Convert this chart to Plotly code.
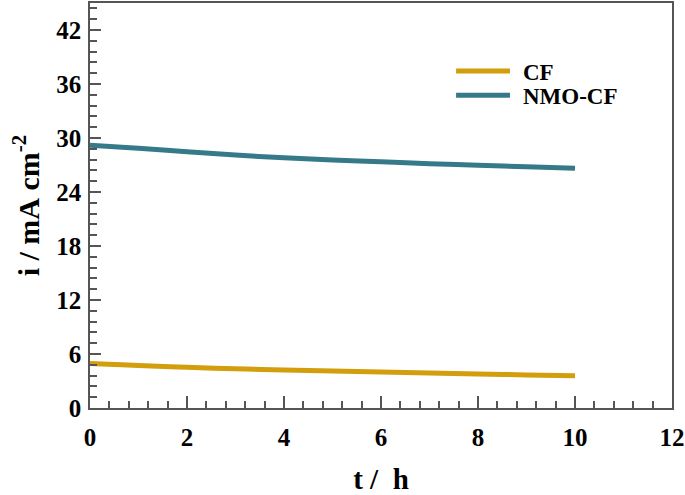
import plotly.graph_objects as go

t_hours = [0, 0.5, 1, 2, 3, 4, 5, 6, 7, 8, 9, 10]
cf_current = [4.95, 4.84, 4.72, 4.52, 4.36, 4.23, 4.11, 4.0, 3.9, 3.79, 3.68, 3.59]
nmo_cf_current = [29.2, 29.02, 28.85, 28.48, 28.1, 27.8, 27.56, 27.35, 27.15, 26.96, 26.8, 26.63]

series_names = ["CF", "NMO-CF"]
series_colors = ["#D29E0C", "#367A8A"]

font_family = "Liberation Serif, Times New Roman, serif"

fig = go.Figure()
for name, vals, col in zip(series_names, [cf_current, nmo_cf_current], series_colors):
    fig.add_trace(go.Scatter(
        x=t_hours, y=vals, name=name, mode="lines",
        line=dict(color=col, width=5, shape="spline"),
        showlegend=False,
    ))

axis_common = dict(
    showline=True, linecolor="#555555", linewidth=1.5, mirror=True,
    ticks="inside", tickcolor="#555555", tickwidth=1.5,
    showgrid=False, zeroline=False, automargin=False,
    tickfont=dict(family=font_family, size=25, color="black", weight="bold"),
)

fig.update_xaxes(
    range=[0, 12], dtick=2, tick0=0, ticklen=12,
    minor=dict(dtick=0.4, ticks="inside", ticklen=7, tickcolor="#555555", tickwidth=1.5),
    title=dict(text="t /\u00a0\u00a0h", font=dict(family=font_family, size=29, color="black", weight="bold"), standoff=21),
    ticklabelstandoff=6,
    **axis_common,
)
fig.update_yaxes(
    range=[0, 45], dtick=6, tick0=0, ticklen=11,
    minor=dict(dtick=1.2, ticks="inside", ticklen=7, tickcolor="#555555", tickwidth=1.5),
    title=dict(text="i\u00a0/\u00a0mA\u00a0cm<sup>-2</sup>", font=dict(family=font_family, size=30, color="black", weight="bold"), standoff=8),
    ticklabelstandoff=2,
    **axis_common,
)

# manual legend (line samples + labels)
legend_rows = [(0.832, series_colors[0], series_names[0]), (0.772, series_colors[1], series_names[1])]
for ypos, col, name in legend_rows:
    fig.add_shape(type="line", xref="paper", yref="paper",
                  x0=0.629, x1=0.7216, y0=ypos, y1=ypos,
                  line=dict(color=col, width=5))
    fig.add_annotation(xref="paper", yref="paper", x=0.7405, y=ypos - 0.003,
                       text=name, showarrow=False, xanchor="left", yanchor="middle",
                       font=dict(family=font_family, size=23, color="black", weight="bold"))

fig.update_layout(
    width=685, height=495,
    margin=dict(l=90, r=13, t=3, b=87),
    paper_bgcolor="white", plot_bgcolor="white",
    showlegend=False,
)

fig.write_html("out.html", config={"displayModeBar": False},
               post_script="document.body.style.margin='0';document.body.style.overflow='hidden';")
